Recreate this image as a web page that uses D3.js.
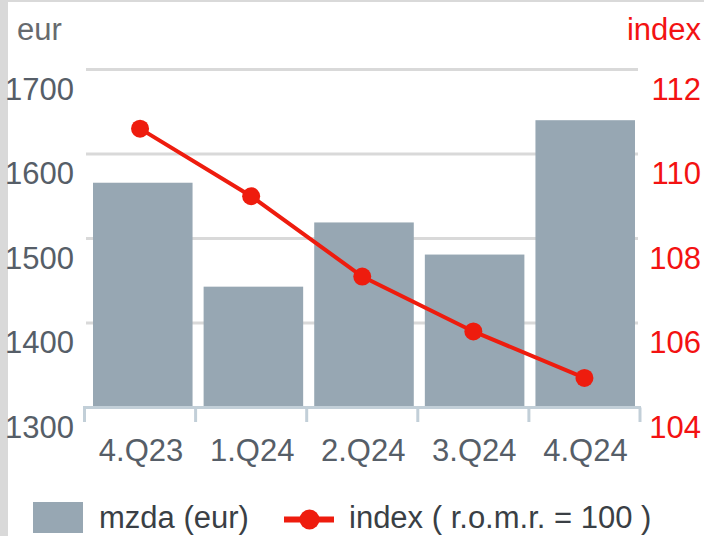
<!DOCTYPE html>
<html>
<head>
<meta charset="utf-8">
<script src="https://cdn.jsdelivr.net/npm/d3@7"></script>
<style>
  html, body { margin: 0; padding: 0; background: #fff; }
  #chart { width: 704px; height: 536px; }
  text { font-family: "Liberation Sans", Arial, sans-serif; }
</style>
</head>
<body>
<div id="chart"></div>
<script>
// data
const categories = ['4.Q23', '1.Q24', '2.Q24', '3.Q24', '4.Q24'];
const mzda_values = [1566, 1443, 1519, 1481, 1640];
const index_values = [110.6, 109.0, 107.1, 105.8, 104.7];
const left_ticks = [1300, 1400, 1500, 1600, 1700];
const right_ticks = [104, 106, 108, 110, 112];
const left_unit = 'eur';
const right_unit = 'index';
const legend_bar_label = 'mzda (eur)';
const legend_line_label = 'index ( r.o.m.r. = 100 )';

// chart static params
const chart_width = 704;
const chart_height = 536;
const bar_color = '#97a7b3';
const line_color = '#ee1c0e';
const grid_color = '#d9d9d9';
const axis_color = '#c2cfd8';
const font_size = 31;

const svg = d3.select('#chart')
  .append('svg')
    .attr('width', chart_width)
    .attr('height', chart_height);

// grey frame on the left and top edge
svg.append('rect').attr('x', 0).attr('y', 0).attr('width', chart_width).attr('height', 2).attr('fill', '#d9d9d9');
svg.append('rect').attr('x', 0).attr('y', 0).attr('width', 8).attr('height', chart_height).attr('fill', '#d9d9d9');

// scales
const yLeft = d3.scaleLinear().domain([1300, 1700]).range([407.5, 69.5]);
const yRight = d3.scaleLinear().domain([104, 112]).range([407.5, 69.5]);
const xBand = d3.scaleBand().domain(categories).range([84.5, 640]).padding(0);
const xBar = d3.scaleBand().domain(categories).range([93, 635]).paddingInner(0.1);

// grid
svg.append('g')
  .selectAll('line')
  .data(left_ticks.filter(d => d > 1300))
  .join('line')
    .attr('x1', 86).attr('x2', 638)
    .attr('y1', d => yLeft(d)).attr('y2', d => yLeft(d))
    .attr('stroke', grid_color)
    .attr('stroke-width', 3);

// bars
svg.append('g')
  .selectAll('rect')
  .data(categories)
  .join('rect')
    .attr('x', d => xBar(d))
    .attr('width', xBar.bandwidth())
    .attr('y', (d, i) => yLeft(mzda_values[i]))
    .attr('height', (d, i) => yLeft(1300) - yLeft(mzda_values[i]))
    .attr('fill', bar_color);

// x axis line + ticks at band edges
const xAxisG = svg.append('g');
xAxisG.append('line')
  .attr('x1', 83).attr('x2', 641)
  .attr('y1', yLeft(1300)).attr('y2', yLeft(1300))
  .attr('stroke', axis_color).attr('stroke-width', 3);
const tick_edges = categories.map(c => xBand(c)).concat([xBand.range()[1]]);
xAxisG.selectAll('.tick')
  .data(tick_edges)
  .join('line')
    .attr('class', 'tick')
    .attr('x1', d => d).attr('x2', d => d)
    .attr('y1', yLeft(1300)).attr('y2', 422)
    .attr('stroke', axis_color).attr('stroke-width', 3);
xAxisG.selectAll('text')
  .data(categories)
  .join('text')
    .attr('x', d => xBand(d) + xBand.bandwidth() / 2 + 1)
    .attr('y', 461)
    .attr('text-anchor', 'middle')
    .attr('font-size', font_size)
    .attr('fill', '#565e68')
    .text(d => d);

// left axis labels
svg.append('g')
  .selectAll('text')
  .data(left_ticks)
  .join('text')
    .attr('x', 74)
    .attr('y', d => yLeft(d) + 30)
    .attr('text-anchor', 'end')
    .attr('font-size', font_size)
    .attr('fill', '#565e68')
    .text(d => d);

// right axis labels
svg.append('g')
  .selectAll('text')
  .data(right_ticks)
  .join('text')
    .attr('x', 701)
    .attr('y', d => yRight(d) + 30)
    .attr('text-anchor', 'end')
    .attr('font-size', font_size)
    .attr('fill', '#f31212')
    .text(d => d);

// axis units
svg.append('text')
  .attr('x', 17).attr('y', 40)
  .attr('font-size', font_size)
  .attr('fill', '#666a6e')
  .text(left_unit);
svg.append('text')
  .attr('x', 701).attr('y', 40)
  .attr('text-anchor', 'end')
  .attr('font-size', font_size)
  .attr('fill', '#f31212')
  .text(right_unit);

// index line
const indexLine = d3.line()
  .x((d, i) => xBand(categories[i]) + xBand.bandwidth() / 2)
  .y(d => yRight(d));
svg.append('path')
  .datum(index_values)
  .attr('d', indexLine)
  .attr('fill', 'none')
  .attr('stroke', line_color)
  .attr('stroke-width', 4);
svg.append('g')
  .selectAll('circle')
  .data(index_values)
  .join('circle')
    .attr('cx', (d, i) => xBand(categories[i]) + xBand.bandwidth() / 2)
    .attr('cy', d => yRight(d))
    .attr('r', 9)
    .attr('fill', line_color);

// legend (text kept just above the bottom edge so descenders are not cut)
const legend = svg.append('g');
legend.append('rect')
  .attr('x', 33).attr('y', 502).attr('width', 50).attr('height', 31)
  .attr('fill', bar_color);
legend.append('text')
  .attr('x', 99).attr('y', 528)
  .attr('font-size', font_size)
  .attr('fill', '#3a3f45')
  .text(legend_bar_label);
legend.append('line')
  .attr('x1', 284).attr('x2', 334).attr('y1', 519.5).attr('y2', 519.5)
  .attr('stroke', line_color).attr('stroke-width', 6);
legend.append('circle')
  .attr('cx', 309.5).attr('cy', 519.5).attr('r', 10)
  .attr('fill', line_color);
legend.append('text')
  .attr('x', 349).attr('y', 528)
  .attr('font-size', font_size)
  .attr('fill', '#3a3f45')
  .text(legend_line_label);
</script>
</body>
</html>
